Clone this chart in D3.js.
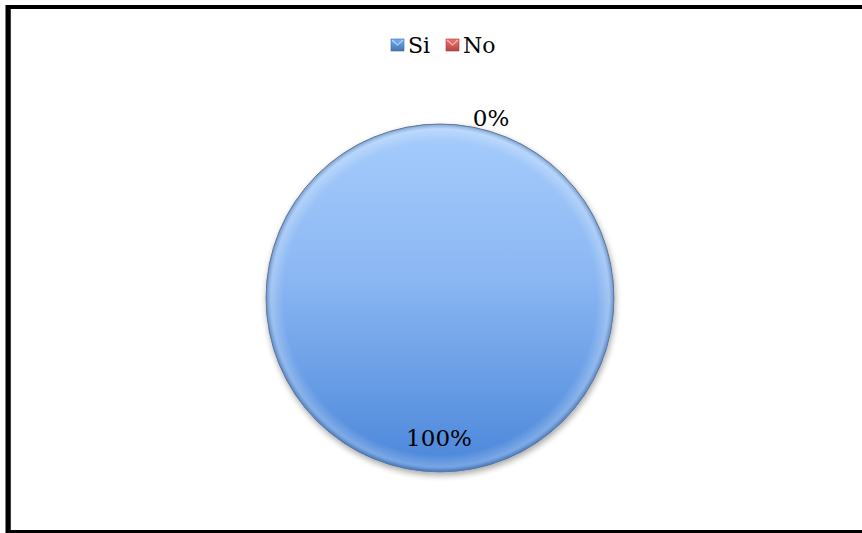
<!DOCTYPE html>
<html><head><meta charset="utf-8">
<script src="https://cdn.jsdelivr.net/npm/d3@7"></script>
<style>body{margin:0;background:#fff}svg{display:block}</style>
</head><body>
<svg id="c" width="862" height="533"></svg>
<script>
const categories = ["Si", "No"];
const values = [100, 0];
const labels = ["100%", "0%"];
const colors = ["#4f81bd", "#c0504d"];

const svg = d3.select("#c");
const defs = svg.append("defs");
const g1 = defs.append("linearGradient").attr("id","pg").attr("x1",0).attr("y1",0).attr("x2",0).attr("y2",1);
g1.append("stop").attr("offset","0%").attr("stop-color","#a7cdfd");
g1.append("stop").attr("offset","45%").attr("stop-color","#8ab6f2");
g1.append("stop").attr("offset","100%").attr("stop-color","#4a86da");
const rg = defs.append("radialGradient").attr("id","rim").attr("cx","50%").attr("cy","50%").attr("r","50%");
rg.append("stop").attr("offset","90%").attr("stop-color","#ffffff").attr("stop-opacity",0);
rg.append("stop").attr("offset","97%").attr("stop-color","#ffffff").attr("stop-opacity",0.25);
rg.append("stop").attr("offset","100%").attr("stop-color","#2a4a7a").attr("stop-opacity",0.35);
const f = defs.append("filter").attr("id","sh").attr("x","-20%").attr("y","-20%").attr("width","140%").attr("height","140%");
f.append("feGaussianBlur").attr("in","SourceAlpha").attr("stdDeviation",3);
f.append("feOffset").attr("dx",1).attr("dy",3).attr("result","b");
f.append("feComponentTransfer").append("feFuncA").attr("type","linear").attr("slope",0.35);
const m = f.append("feMerge"); m.append("feMergeNode"); m.append("feMergeNode").attr("in","SourceGraphic");
categories.forEach((c,i)=>{
  const lg = defs.append("linearGradient").attr("id","lg"+i).attr("x1",0).attr("y1",0).attr("x2",0).attr("y2",1);
  lg.append("stop").attr("offset","0%").attr("stop-color",d3.color(colors[i]).brighter(0.9));
  lg.append("stop").attr("offset","100%").attr("stop-color",d3.color(colors[i]).darker(0.3));
});

// frame
svg.append("rect").attr("x",8.5).attr("y",7).attr("width",900).attr("height",525)
  .attr("fill","none").attr("stroke","#000").attr("stroke-width",4);
svg.append("line").attr("x1",8).attr("x2",8).attr("y1",5).attr("y2",533).attr("stroke","#000").attr("stroke-width",5);

const cx = 440, cy = 298, r = 174;
const pie = d3.pie().sort(null).startAngle(0).endAngle(2*Math.PI)(values);
const arc = d3.arc().innerRadius(0).outerRadius(r);
const gp = svg.append("g").attr("transform",`translate(${cx},${cy})`);
gp.selectAll("path.s").data(pie).join("path").attr("class","s")
  .attr("d", arc)
  .attr("fill", (d,i)=> i===0 ? "url(#pg)" : colors[i])
  .attr("stroke","#6d7f99").attr("stroke-width",1)
  .attr("filter","url(#sh)");
gp.append("circle").attr("r",r).attr("fill","url(#rim)").attr("pointer-events","none");

const font = "'DejaVu Serif', 'Liberation Serif', serif";
const labelPos = [[439, 446], [491, 126]];
svg.selectAll("text.lab").data(labels).join("text").attr("class","lab")
  .attr("x",(d,i)=>labelPos[i][0]).attr("y",(d,i)=>labelPos[i][1])
  .attr("text-anchor","middle").attr("font-family",font).attr("font-size",23)
  .attr("fill","#000").text(d=>d);

const lx = [391, 446];
const leg = svg.selectAll("g.leg").data(categories).join("g").attr("class","leg")
  .attr("transform",(d,i)=>`translate(${lx[i]},39)`);
leg.append("rect").attr("width",13).attr("height",12).attr("fill",(d,i)=>`url(#lg${i})`)
  .attr("stroke",(d,i)=>d3.color(colors[i]).darker(0.6)).attr("stroke-width",0.6);
leg.append("path").attr("d","M1,1 L6.5,6 L12,1").attr("fill","none").attr("stroke","rgba(255,255,255,0.55)").attr("stroke-width",1.2);
leg.append("text").attr("x",17).attr("y",13.5).attr("font-family",font).attr("font-size",22).attr("fill","#000").text(d=>d);
</script>
</body></html>
